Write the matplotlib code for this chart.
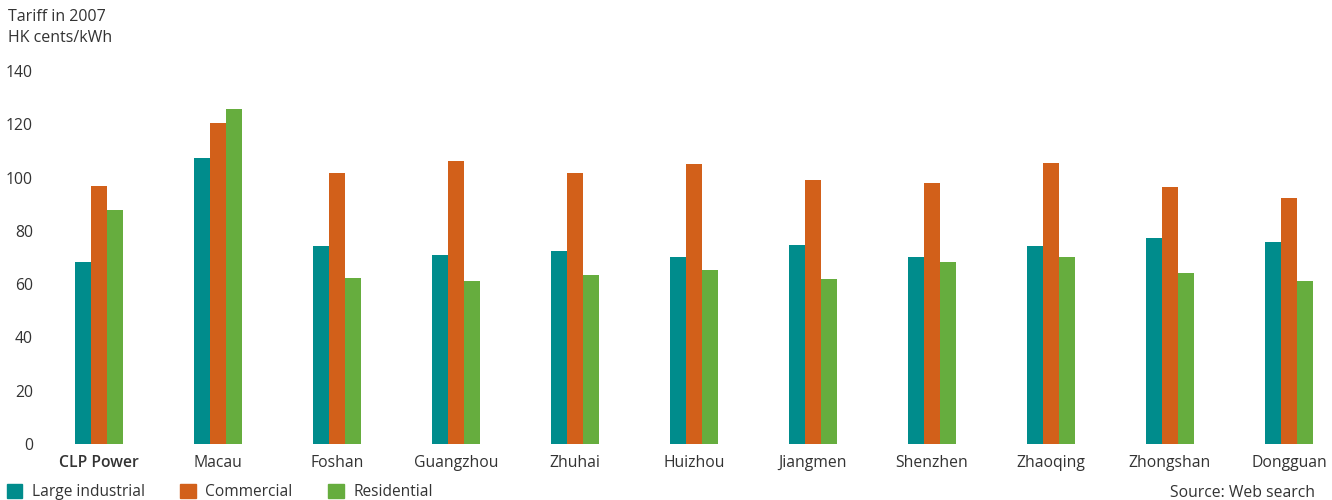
import numpy as np
import matplotlib.pyplot as plt
from matplotlib.patches import Patch

# Data (HK cents/kWh, 2007)
cities = ['CLP Power', 'Macau', 'Foshan', 'Guangzhou', 'Zhuhai', 'Huizhou',
          'Jiangmen', 'Shenzhen', 'Zhaoqing', 'Zhongshan', 'Dongguan']
large_industrial = [68.3, 107.4, 74.3, 70.9, 72.4, 70.2, 74.7, 70.2, 74.3, 77.3, 75.8]
commercial = [96.8, 120.5, 101.7, 106.2, 101.7, 105.1, 99.1, 98.0, 105.5, 96.5, 92.3]
residential = [87.8, 125.8, 62.3, 61.2, 63.4, 65.3, 61.9, 68.3, 70.2, 64.2, 61.2]
series_names = ['Large industrial', 'Commercial', 'Residential']
colors = ['#008C8C', '#D2601A', '#66AD3E']

plt.rcParams['font.family'] = ['Open Sans', 'DejaVu Sans']
text_color = '#333333'

fig = plt.figure(figsize=(13.32, 5), dpi=100)
ax = fig.add_axes([40 / 1332, 1 - 444 / 500, 1280 / 1332, 373 / 500])

x = np.arange(len(cities))
width = 16 / 119
for i, (vals, c) in enumerate(zip([large_industrial, commercial, residential], colors)):
    ax.bar(x + (i - 1) * width, vals, width, color=c, linewidth=0)

ax.set_ylim(0, 140)
ax.set_xlim((40 - 99) / 119, (1320 - 99) / 119)
ax.set_yticks(range(0, 141, 20))
ax.set_xticks(x)
ax.set_xticklabels(cities)
ax.tick_params(length=0, labelsize=11.3, labelcolor=text_color)
ax.tick_params(axis='y', pad=5)
ax.tick_params(axis='x', pad=8)
ax.get_xticklabels()[0].set_fontweight('semibold')
for s in ax.spines.values():
    s.set_visible(False)

fig.text(8 / 1332, 1 - 17 / 500, 'Tariff in 2007', fontsize=11.5, color=text_color, va='center')
fig.text(8 / 1332, 1 - 38 / 500, 'HK cents/kWh', fontsize=11.5, color=text_color, va='center')
fig.text(1315 / 1332, 1 - 493 / 500, 'Source: Web search', fontsize=11.3,
         color=text_color, va='center', ha='right')

handles = [Patch(color=c, label=n) for c, n in zip(colors, series_names)]
fig.legend(handles=handles, loc='center left', bbox_to_anchor=(2 / 1332, 1 - 492 / 500),
           ncol=3, frameon=False, fontsize=11.2, labelcolor=text_color,
           handlelength=1.0, handleheight=1.0, handletextpad=0.6,
           columnspacing=2.3, borderaxespad=0, borderpad=0.3)

fig.savefig('out.png', dpi=100)
